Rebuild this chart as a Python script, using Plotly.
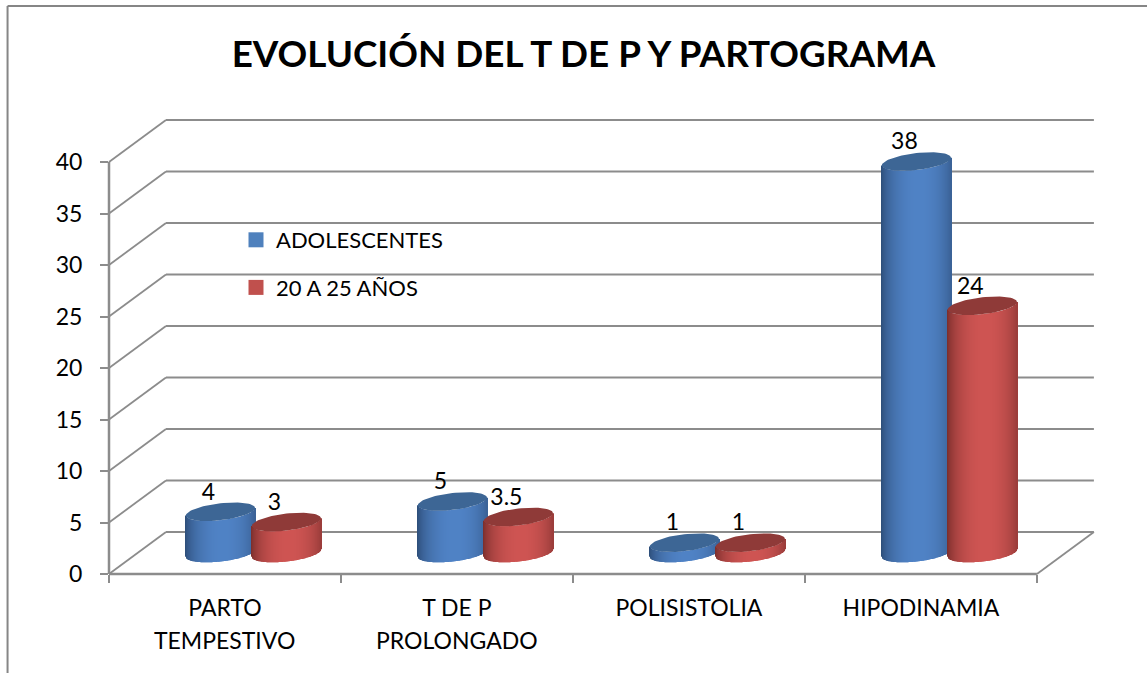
import numpy as np
import plotly.graph_objects as go

categories_line1 = ["PARTO", "T DE P", "POLISISTOLIA", "HIPODINAMIA"]
categories_line2 = ["TEMPESTIVO", "PROLONGADO", "", ""]
adolescentes = [4, 5, 1, 38]
veinte_25 = [3, 3.5, 1, 24]
series_names = ["ADOLESCENTES", "20 A 25 AÑOS"]
y_ticks = [0, 5, 10, 15, 20, 25, 30, 35, 40]

W, H = 1147, 673
L, R, T, B = 108.5, 1096, 119, 574
PX_X = 232.1   # px per category
PX_Y = 10.3    # px per value unit
XR = (R - L) / PX_X
YR = (B - T) / PX_Y
DX = 57 / PX_X
DY = 42 / PX_Y
FLOOR = 21 / PX_Y
HALF = 34.6 / PX_X
TILT = 3.8 / PX_Y
ELL = 8.5 / PX_Y
OFFS = [(220 - L) / PX_X, (286 - L) / PX_X]
GRAY = "#8c8c8c"
FONT = "Lato"

def shade(u, dark, light):
    f = np.sqrt(max(0.0, 1 - ((u - 0.08) / 1.12) ** 2)) ** 1.2
    c = [int(d + (l - d) * f) for d, l in zip(dark, light)]
    return f"rgb({c[0]},{c[1]},{c[2]})"

fig = go.Figure()
styles = [((38, 66, 105), (80, 131, 198), "#3d6695"),
          ((105, 38, 36), (207, 85, 83), "#8f3a38")]

us = np.linspace(-1, 1, 70)
for s, vals in enumerate([adolescentes, veinte_25]):
    dark, light, capc = styles[s]
    xs, bases, hs, cols = [], [], [], []
    cx_cap, cy_cap = [], []
    for i, v in enumerate(vals):
        cx = i + OFFS[s]
        for u in us:
            xs.append(cx + u * HALF)
            bases.append(FLOOR + TILT * u - ELL * np.sqrt(max(0, 1 - u * u)))
            hs.append(v)
            cols.append(shade(u, dark, light))
        t = np.linspace(0, 2 * np.pi, 73)
        cx_cap += list(cx + HALF * np.cos(t)) + [None]
        cy_cap += list(FLOOR + v + TILT * np.cos(t) + ELL * np.sin(t)) + [None]
    fig.add_trace(go.Bar(x=xs, y=hs, base=bases, width=1 / PX_X,
                         marker=dict(color=cols, line=dict(width=0)),
                         showlegend=False, hoverinfo="skip", name=series_names[s]))
    fig.add_trace(go.Scatter(x=cx_cap, y=cy_cap, mode="lines", fill="toself",
                             fillcolor=capc, line=dict(width=0, color=capc),
                             showlegend=False, hoverinfo="skip"))

# data labels
for s, vals in enumerate([adolescentes, veinte_25]):
    fig.add_trace(go.Scatter(
        x=[i + OFFS[s] - 12 / PX_X for i in range(4)],
        y=[FLOOR + v + 18 / PX_Y for v in vals],
        mode="text", text=[str(v) for v in vals], textposition="middle center",
        textfont=dict(family=FONT, size=23, color="#000000"),
        showlegend=False, hoverinfo="skip", cliponaxis=False))

# second line of category labels
annotations = [dict(x=(i + 0.5) / XR, xref="paper", y=-(640 - B) / (B - T), yref="paper",
                    text=t, showarrow=False, xanchor="center", yanchor="middle",
                    font=dict(family=FONT, size=23, color="#000000"))
               for i, t in enumerate(categories_line2) if t]

# legend entries
for s in range(2):
    fig.add_trace(go.Scatter(x=[None], y=[None], mode="markers", name=series_names[s],
                             legendgroup=series_names[s],
                             marker=dict(symbol="square", size=15,
                                         color=["#4f81bd", "#c0504d"][s])))

# walls as shapes under the marks
def line(x0, y0, x1, y1, w=1.8):
    return dict(type="line", xref="paper", yref="paper", layer="below",
                x0=x0 / XR, y0=y0 / YR, x1=x1 / XR, y1=y1 / YR,
                line=dict(color=GRAY, width=w))

shapes = []
for v in y_ticks:
    shapes.append(line(0, v, DX, v + DY, 1.8))
    shapes.append(line(DX, v + DY, 4 + DX, v + DY, 2.2))
shapes.append(line(0, 0, 0, 40, 2.5))
shapes.append(line(0, 0, 4, 0, 2.5))
shapes.append(line(4, 0, 4 + DX, DY, 1.8))

# outer frame
px2x = lambda p: (p - L) / (R - L)
px2y = lambda p: (B - p) / (B - T)
shapes.append(dict(type="line", xref="paper", yref="paper", x0=px2x(7), x1=px2x(W + 5),
                   y0=px2y(6), y1=px2y(6), line=dict(color="#868686", width=2)))
shapes.append(dict(type="line", xref="paper", yref="paper", x0=px2x(7), x1=px2x(7),
                   y0=px2y(6), y1=px2y(H + 5), line=dict(color="#868686", width=2)))

fig.update_layout(
    width=W, height=H,
    margin=dict(l=L, r=W - R, t=T, b=H - B, pad=0, autoexpand=False),
    paper_bgcolor="white", plot_bgcolor="rgba(0,0,0,0)",
    barmode="overlay", shapes=shapes, annotations=annotations,
    title=dict(text="<b>EVOLUCIÓN DEL T DE P Y PARTOGRAMA</b>",
               x=583.5 / W, xanchor="center", xref="container",
               y=1 - 54 / H, yanchor="middle", yref="container",
               font=dict(family=FONT, size=36.8, color="#000000")),
    legend=dict(xref="container", yref="container", x=236 / W, y=1 - 219 / H,
                xanchor="left", yanchor="top", bgcolor="rgba(0,0,0,0)",
                tracegroupgap=16, itemsizing="trace", itemwidth=30,
                font=dict(family=FONT, size=22, color="#000000")),
    xaxis=dict(range=[0, XR], showgrid=False, zeroline=False, showline=False,
               automargin=False, tickmode="array",
               tickvals=[i + 0.5 for i in range(4)], ticktext=categories_line1,
               ticks="", ticklabelstandoff=18,
               tickfont=dict(family=FONT, size=23, color="#000000"),
               minor=dict(tickmode="array", tickvals=[0, 1, 2, 3, 4], ticks="outside",
                          ticklen=8, tickwidth=2, tickcolor=GRAY)),
    yaxis=dict(range=[0, YR], showgrid=False, zeroline=False, showline=False,
               automargin=False, tickmode="array", tickvals=y_ticks,
               ticks="outside", ticklen=8, tickwidth=2, tickcolor=GRAY,
               ticklabelstandoff=13,
               tickfont=dict(family=FONT, size=23, color="#000000")),
)

fig.write_html("out.html", config=dict(displayModeBar=False),
               post_script="document.body.style.margin='0';document.body.style.overflow='hidden';")
